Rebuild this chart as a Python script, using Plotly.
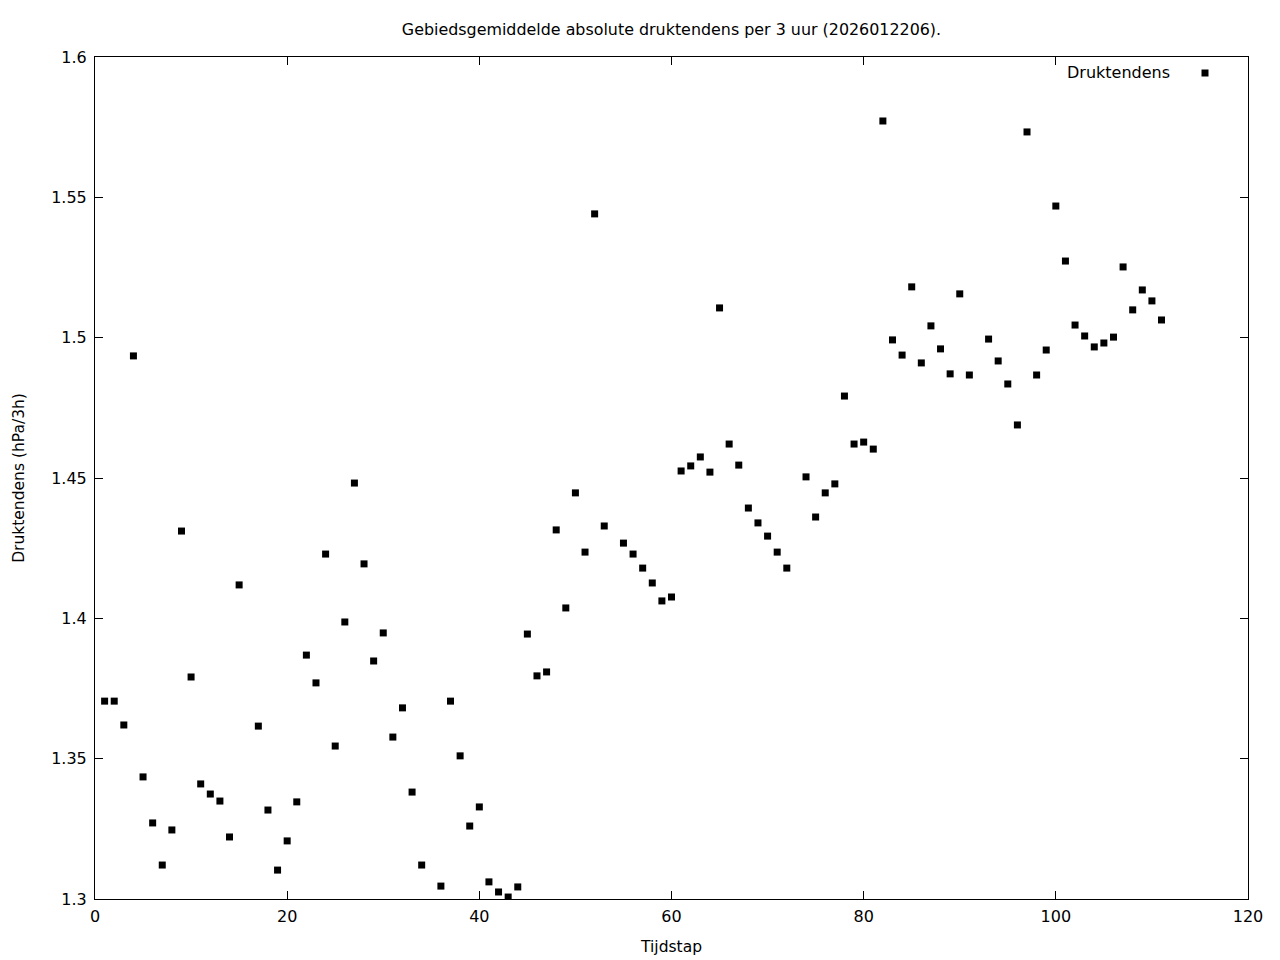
import plotly.graph_objects as go

tijdstap = [1,2,3,4,5,6,7,8,9,10,11,12,13,14,15,17,18,19,20,21,22,23,24,25,26,27,28,29,30,
            31,32,33,34,36,37,38,39,40,41,42,43,44,45,46,47,48,49,50,51,52,53,55,56,57,58,59,60,
            61,62,63,64,65,66,67,68,69,70,71,72,74,75,76,77,78,79,80,81,82,83,84,85,86,87,88,89,90,
            91,93,94,95,96,97,98,99,100,101,102,103,104,105,106,107,108,109,110,111]
druktendens = [1.3705,1.3705,1.3620,1.4935,1.3435,1.3271,1.3121,1.3246,1.4311,1.3791,
               1.3410,1.3374,1.3349,1.3221,1.4119,1.3616,1.3317,1.3103,1.3207,1.3346,
               1.3869,1.3770,1.4229,1.3545,1.3987,1.4482,1.4194,1.3848,1.3948,
               1.3577,1.3681,1.3381,1.3121,1.3046,1.3705,1.3510,1.3260,1.3328,
               1.3061,1.3025,1.3007,1.3043,1.3944,1.3795,1.3809,1.4315,1.4037,1.4447,
               1.4236,1.5441,1.4329,1.4268,1.4229,1.4179,1.4126,1.4062,1.4076,
               1.4525,1.4543,1.4575,1.4521,1.5106,1.4621,1.4546,1.4393,1.4340,1.4293,
               1.4236,1.4179,1.4504,1.4361,1.4447,1.4479,1.4792,1.4621,1.4628,1.4603,
               1.5772,1.4992,1.4938,1.5181,1.4910,1.5042,1.4960,1.4871,1.5156,
               1.4867,1.4995,1.4917,1.4835,1.4689,1.5733,1.4867,1.4956,1.5469,
               1.5273,1.5045,1.5006,1.4967,1.4981,1.5002,1.5252,1.5099,1.5170,1.5131,1.5063]

title = "Gebiedsgemiddelde absolute druktendens per 3 uur (2026012206)."
series_name = "Druktendens"
x_title = "Tijdstap"
y_title = "Druktendens (hPa/3h)"

font_family = "DejaVu Sans"

W, H = 1280, 960
ML, MR, MT, MB = 87, 40, 49, 69
PW, PH = W - ML - MR, H - MT - MB

fig = go.Figure()
fig.add_trace(go.Scatter(
    x=tijdstap, y=druktendens, mode="markers", name=series_name,
    marker=dict(symbol="square", size=7, color="black", line=dict(width=0)),
    showlegend=False,
))

axis_common = dict(
    showline=True, linecolor="black", linewidth=1, mirror="allticks",
    ticks="inside", ticklen=8, tickcolor="black", tickwidth=1,
    showgrid=False, zeroline=False, automargin=False,
    tickfont=dict(family=font_family, size=16, color="black"),
)

fig.update_layout(
    width=W, height=H,
    paper_bgcolor="white", plot_bgcolor="white",
    margin=dict(l=ML, r=MR, t=MT, b=MB),
    title=dict(text=title, x=0.5, xanchor="center", xref="paper",
               y=1 - 21 / H, yanchor="middle",
               font=dict(family=font_family, size=15.9, color="black")),
    xaxis=dict(range=[0, 120], dtick=20, tick0=0, ticklabelstandoff=3,
               title=dict(text=x_title, font=dict(family=font_family, size=15.5, color="black"), standoff=15),
               **axis_common),
    yaxis=dict(range=[1.3, 1.6], dtick=0.05, tick0=1.3, ticklabelstandoff=4,
               title=dict(text=y_title, font=dict(family=font_family, size=15.5, color="black"), standoff=22),
               **axis_common),
    showlegend=False,
)

# Legend (gnuplot style: text then key symbol)
ky = 1 - (73 - 57) / PH
fig.add_annotation(text=series_name, xref="paper", yref="paper", x=(1172 - 95) / PW, y=ky,
                   xanchor="right", yanchor="middle", showarrow=False,
                   font=dict(family=font_family, size=16, color="black"))
kx = (1205 - 95) / PW
fig.add_shape(type="rect", xref="paper", yref="paper",
              x0=kx - 3.5 / PW, x1=kx + 3.5 / PW, y0=ky - 3.5 / PH, y1=ky + 3.5 / PH,
              fillcolor="black", line=dict(width=0))

fig.write_html("out.html")
